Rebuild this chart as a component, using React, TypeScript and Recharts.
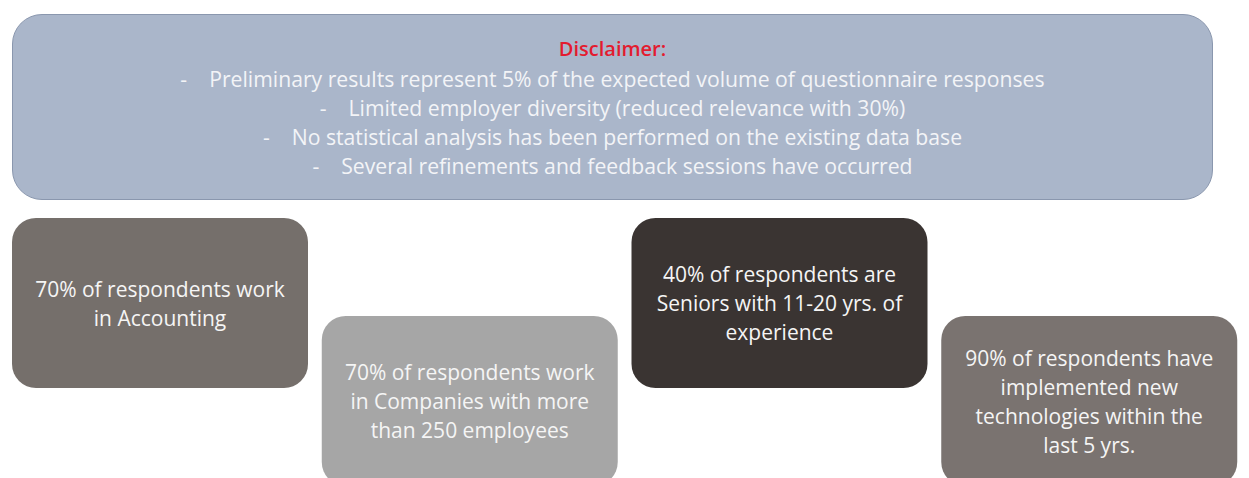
import React from 'react';
import { ComposedChart, Bar, XAxis, YAxis } from 'recharts';

const disclaimerTitle = 'Disclaimer:';
const disclaimerLines = [
  'Preliminary results represent 5% of the expected volume of questionnaire responses',
  'Limited employer diversity (reduced relevance with 30%)',
  'No statistical analysis has been performed on the existing data base',
  'Several refinements and feedback sessions have occurred',
];

const findingKeys = ['accounting', 'companySize', 'seniority', 'technology'];
const findingShares = [70, 70, 40, 90];
const findingLines = [
  ['70% of respondents work', 'in Accounting'],
  ['70% of respondents work', 'in Companies with more', 'than 250 employees'],
  ['40% of respondents are', 'Seniors with 11-20 yrs. of', 'experience'],
  ['90% of respondents have', 'implemented new', 'technologies within the', 'last 5 yrs.'],
];

const boxColors = ['#756f6b', '#a6a6a6', '#3a3432', '#7a7370'];

// boxes alternate between an upper and a lower row
const rowTop = [218, 316];
const rowBottom = [388, 486];

const chartData = findingKeys.map((key, i) => ({
  key,
  share: findingShares[i],
  lines: findingLines[i],
  span: [rowTop[i % 2], rowBottom[i % 2]],
}));

const FONT = "'Open Sans', sans-serif";

const FindingBox = (props: any) => {
  const { x, y, width, height, payload, index } = props;
  const top = Math.min(y, y + height);
  const h = Math.abs(height);
  const lines: string[] = payload.lines || [];
  const cx = x + width / 2;
  const cy = top + h / 2;
  const lh = 29;
  const start = cy - ((lines.length - 1) * lh) / 2;
  return (
    <g>
      <rect x={x} y={top} width={width} height={h} rx={24} ry={24} fill={boxColors[index]} />
      {lines.map((line, j) => (
        <text
          key={j}
          x={cx}
          y={start + j * lh}
          textAnchor="middle"
          dominantBaseline="central"
          fill="#f5f5f5"
          fontFamily={FONT}
          fontSize={21}
        >
          {line}
        </text>
      ))}
    </g>
  );
};

export default function App() {
  return (
    <div
      style={{
        position: 'absolute',
        left: 0,
        top: 0,
        width: 1249,
        height: 478,
        background: '#ffffff',
        overflow: 'hidden',
      }}
    >
      <ComposedChart
        width={1249}
        height={478}
        data={chartData}
        margin={{ top: 0, right: 0, bottom: 0, left: 0 }}
      >
        <XAxis dataKey="key" type="category" hide padding={{ left: 5, right: 5 }} />
        <YAxis type="number" domain={[0, 478]} reversed hide allowDataOverflow />
        <Bar dataKey="span" barSize={296} shape={FindingBox} isAnimationActive={false} />
      </ComposedChart>
      <div
        style={{
          position: 'absolute',
          left: 12,
          top: 14,
          width: 1201,
          height: 186,
          boxSizing: 'border-box',
          border: '1.5px solid #8a97ae',
          borderRadius: 30,
          background: '#aab6ca',
          paddingTop: 19,
          textAlign: 'center',
          fontFamily: FONT,
          fontSize: 21.2,
          lineHeight: '29px',
        }}
      >
        <div style={{ color: '#e31b2f', fontWeight: 600, fontSize: 20, marginBottom: 1 }}>
          {disclaimerTitle}
        </div>
        {disclaimerLines.map((line) => (
          <div key={line} style={{ color: '#f3f4f7', whiteSpace: 'pre' }}>
            {'-    ' + line}
          </div>
        ))}
      </div>
    </div>
  );
}
